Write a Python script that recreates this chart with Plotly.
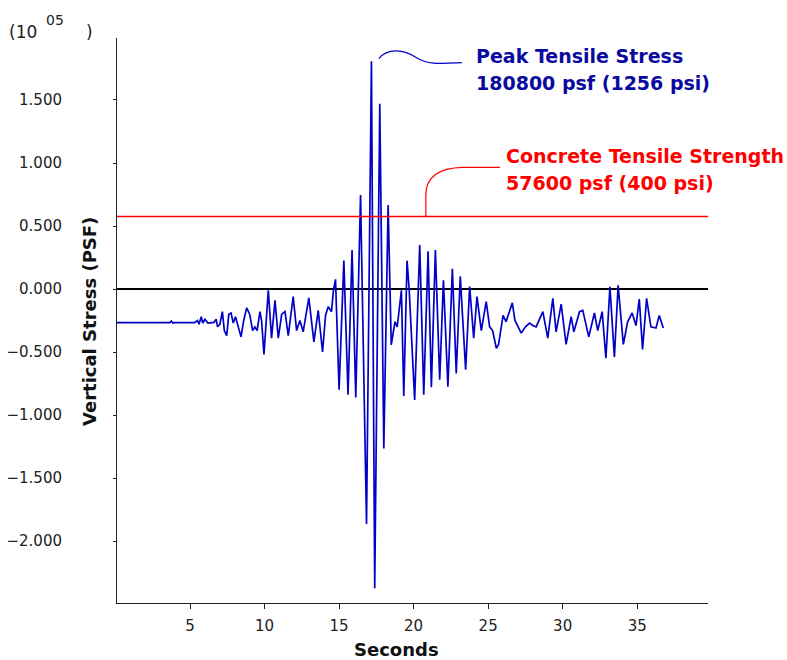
import plotly.graph_objects as go

# Vertical stress record (units of 1e5 psf) against time in seconds
seconds = [
    0.0, 3.65, 3.75, 3.85, 3.95, 5.3, 5.5, 5.6, 5.75, 5.85, 6.0, 6.2, 6.6,
    6.75, 6.85, 7.0, 7.17, 7.3, 7.46, 7.6, 7.75, 7.9, 8.05, 8.15, 8.42, 8.6,
    8.8, 9.0, 9.2, 9.35, 9.5, 9.69, 9.8, 9.96, 10.25, 10.47, 10.7, 10.92,
    11.15, 11.37, 11.59, 11.92, 12.15, 12.37, 12.59, 12.97, 13.31, 13.6,
    13.89, 14.09, 14.27, 14.49, 14.62, 14.76, 15.0, 15.32, 15.6, 15.87,
    16.12, 16.44, 16.84, 17.17, 17.39, 17.73, 18.0, 18.29, 18.5, 18.75,
    18.9, 19.18, 19.34, 19.56, 19.7, 20.07, 20.41, 20.68, 20.97, 21.19,
    21.46, 21.75, 22.0, 22.3, 22.6, 22.86, 23.13, 23.49, 23.76, 24.03,
    24.25, 24.54, 24.87, 25.1, 25.3, 25.55, 25.7, 26.0, 26.2, 26.62, 26.8,
    27.22, 27.5, 27.78, 28.0, 28.22, 28.67, 29.0, 29.34, 29.56, 29.9,
    30.23, 30.57, 30.75, 31.13, 31.35, 31.75, 32.13, 32.35, 32.65, 32.9,
    33.17, 33.47, 33.72, 34.07, 34.36, 34.66, 34.92, 35.14, 35.36, 35.63,
    35.92, 36.26, 36.48, 36.75,
]
stress = [
    -0.267, -0.267, -0.255, -0.27, -0.267, -0.267, -0.25, -0.28, -0.22,
    -0.27, -0.24, -0.27, -0.265,
    -0.24, -0.30, -0.28, -0.18, -0.33, -0.37, -0.20, -0.19, -0.27, -0.22,
    -0.26, -0.38, -0.25, -0.15, -0.20, -0.33, -0.30, -0.33, -0.18, -0.25,
    -0.52, -0.01, -0.39, -0.09, -0.39, -0.20, -0.18, -0.37, -0.06, -0.33,
    -0.25, -0.34, -0.07, -0.42, -0.17, -0.50, -0.21, -0.14, -0.18, -0.01,
    0.077, -0.80, 0.225, -0.84, 0.31, -0.86, 0.746, -1.865, 1.808, -2.375,
    1.47, -1.265, 0.667, -0.444, -0.26, -0.30, -0.01, -0.85, 0.225, 0.0,
    -0.88, 0.35, -0.84, 0.30, -0.78, 0.31, -0.72, 0.07, -0.775, 0.16,
    -0.67, 0.10, -0.64, 0.02, -0.39, -0.06, -0.33, -0.10, -0.30, -0.33,
    -0.47, -0.44, -0.21, -0.26, -0.11, -0.25, -0.35, -0.30, -0.27, -0.29,
    -0.30, -0.18, -0.39, -0.074, -0.34, -0.12, -0.44, -0.22, -0.34, -0.18,
    -0.17, -0.38, -0.19, -0.33, -0.18, -0.55, 0.018, -0.54, 0.03, -0.44,
    -0.26, -0.19, -0.29, -0.08, -0.48, -0.074, -0.30, -0.31, -0.21, -0.31,
]

x_ticks = [5, 10, 15, 20, 25, 30, 35]
y_ticks = [-2.0, -1.5, -1.0, -0.5, 0.0, 0.5, 1.0, 1.5]

peak_time = 17.17
peak_stress = 1.808          # 180800 psf
tensile_strength = 0.576     # 57600 psf

peak_label = ["Peak Tensile Stress", "180800 psf (1256 psi)"]
strength_label = ["Concrete Tensile Strength", "57600 psf (400 psi)"]

W, H = 787, 660
L, R, T, B = 117, 79, 38, 57
PW, PH = W - L - R, H - T - B


def px(x):
    return (x - L) / PW


def py(y):
    return (H - B - y) / PH


BLUE_LINE = "#0000C8"
BLUE_TEXT = "#0A0AA0"
RED = "#FF0000"
FONT = "DejaVu Sans"

fig = go.Figure()
fig.add_trace(go.Scatter(
    x=seconds, y=stress, mode="lines",
    line=dict(color=BLUE_LINE, width=1.7),
    showlegend=False, hoverinfo="x+y",
))

shapes = [
    # concrete tensile strength level
    dict(type="line", xref="paper", x0=0, x1=1, yref="y",
         y0=tensile_strength, y1=tensile_strength,
         line=dict(color=RED, width=1.5)),
    # leader from the peak to its label
    dict(type="path", xref="x", yref="y",
         path=(f"M {peak_time + 0.5},{peak_stress + 0.02} "
               f"C {peak_time + 1.1},{peak_stress + 0.11} "
               f"{peak_time + 2.2},{peak_stress + 0.09} "
               f"{peak_time + 3.0},{peak_stress + 0.03} "
               f"C {peak_time + 3.8},{peak_stress - 0.03} "
               f"{peak_time + 4.6},{peak_stress - 0.02} "
               f"{peak_time + 6.07},{peak_stress - 0.012}"),
         line=dict(color=BLUE_LINE, width=1.2)),
    # leader from the strength line to its label
    dict(type="path", xref="x", yref="y",
         path=(f"M 20.82,{tensile_strength} "
               f"L 20.82,{tensile_strength + 0.17} "
               f"C 20.82,{tensile_strength + 0.31} 21.6,{tensile_strength + 0.385} "
               f"23.3,{tensile_strength + 0.39} "
               f"L 25.8,{tensile_strength + 0.39}"),
         line=dict(color=RED, width=1.2)),
]

annotations = []


def label(text, x, y, size, color, bold=False, anchor="left"):
    annotations.append(dict(
        text=f"<b>{text}</b>" if bold else text,
        xref="paper", yref="paper", x=px(x), y=py(y),
        xanchor=anchor, yanchor="middle", showarrow=False, borderpad=0,
        font=dict(family=FONT, size=size, color=color),
    ))


label(peak_label[0], 475, 56, 19, BLUE_TEXT, bold=True)
label(peak_label[1], 475, 83, 19, BLUE_TEXT, bold=True)
label(strength_label[0], 505, 156, 19, RED, bold=True)
label(strength_label[1], 505, 183, 19, RED, bold=True)

# exponent marker of the y axis
label("(10", 8, 32, 17, "#222222")
label("05", 45, 20, 14, "#222222")
label(")", 85, 32, 17, "#222222")

# axis titles
label("Seconds", 396, 649, 18, "#111111", bold=True, anchor="center")
annotations.append(dict(
    text="<b>Vertical Stress (PSF)</b>", xref="paper", yref="paper",
    x=px(90), y=py(322), xanchor="center", yanchor="middle",
    textangle=-90, showarrow=False, borderpad=0,
    font=dict(family=FONT, size=18, color="#111111"),
))

fig.update_layout(
    width=W, height=H,
    margin=dict(l=L, r=R, t=T, b=B, pad=0, autoexpand=False),
    paper_bgcolor="white", plot_bgcolor="white",
    shapes=shapes, annotations=annotations,
    font=dict(family=FONT, size=15, color="#222222"),
    xaxis=dict(
        range=[0.1, 39.75], tickvals=x_ticks, ticktext=[str(v) for v in x_ticks],
        showgrid=False, zeroline=False, showline=True, linecolor="#222222",
        linewidth=1, ticks="outside", ticklen=5, tickcolor="#222222",
        ticklabelstandoff=4, automargin=False,
        tickfont=dict(family=FONT, size=15, color="#222222"),
    ),
    yaxis=dict(
        range=[-2.492, 1.992], tickvals=y_ticks, tickformat=".3f",
        showgrid=False, zeroline=True, zerolinecolor="#000000",
        zerolinewidth=1.5, showline=True, linecolor="#222222", linewidth=1,
        ticks="outside", ticklen=3, tickcolor="#222222",
        ticklabelstandoff=48, automargin=False,
        tickfont=dict(family=FONT, size=15, color="#222222"),
    ),
)

fig.write_html("out.html")
